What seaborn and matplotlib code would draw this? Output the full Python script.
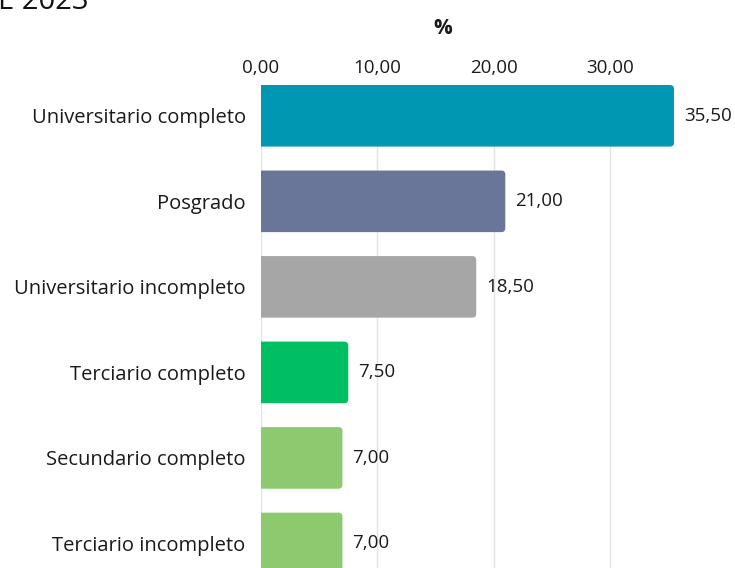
import matplotlib
matplotlib.use("Agg")
import matplotlib.pyplot as plt
import seaborn as sns
import pandas as pd
from matplotlib.patches import FancyBboxPatch

# Datos
niveles = ["Universitario completo", "Posgrado", "Universitario incompleto",
           "Terciario completo", "Secundario completo", "Terciario incompleto"]
porcentajes = [35.5, 21.0, 18.5, 7.5, 7.0, 7.0]
colores = ["#0097b2", "#6a7699", "#a6a6a6", "#00bf63", "#8cc96f", "#8cc96f"]
ticks_x = [0, 10, 20, 30]
titulo = "E 2023"

df = pd.DataFrame({"nivel": niveles, "pct": porcentajes})

sns.set_style("white")
plt.rcParams["font.family"] = ["Open Sans", "DejaVu Sans"]

fig = plt.figure(figsize=(7.35, 5.68), dpi=100)
ax = fig.add_axes([261 / 735, 0, (674 - 261) / 735, (568 - 85) / 568])

sns.barplot(data=df, y="nivel", x="pct", hue="nivel", palette=colores,
            legend=False, width=0.72, ax=ax, saturation=1, zorder=2)

# esquinas redondeadas a la derecha (el lado izquierdo queda recortado por el eje)
px_x = 413 / 35.5
px_y = 85.5
for barra in list(ax.patches):
    x0, y0 = barra.get_x(), barra.get_y()
    w, h = barra.get_width(), barra.get_height()
    r = 4 / px_x
    nueva = FancyBboxPatch((x0 - 1, y0), w + 1, h,
                           boxstyle=f"round,pad=0,rounding_size={r}",
                           mutation_aspect=px_x / px_y,
                           facecolor=barra.get_facecolor(), edgecolor="none",
                           zorder=2)
    ax.add_patch(nueva)
    barra.set_visible(False)

for cont in ax.containers:
    ax.bar_label(cont, labels=[f"{v:.2f}".replace(".", ",") for v in cont.datavalues],
                 padding=7, fontsize=13.5, color="#1a1a1a")

ax.set_xlim(0, 35.5)
ax.set_ylim(5.287, -0.36)
ax.set_xticks(ticks_x)
ax.set_xticklabels([f"{t:.2f}".replace(".", ",") for t in ticks_x])
ax.xaxis.tick_top()
ax.tick_params(axis="x", length=0, pad=6, labelsize=13.5, labelcolor="#1a1a1a")
ax.tick_params(axis="y", length=0, pad=11, labelsize=14.5, labelcolor="#1a1a1a")
ax.grid(axis="x", color="#e3e3e3", linewidth=1, zorder=0)
ax.set_axisbelow(True)
for s in ["top", "right", "bottom", "left"]:
    ax.spines[s].set_visible(False)

ax.set_ylabel("")
ax.set_xlabel("%", fontsize=15, fontweight="bold", color="#1a1a1a")
ax.xaxis.set_label_position("top")
ax.xaxis.set_label_coords(0.44, 1.105)

fig.text(-0.003, 1 - 9 / 568, titulo, fontsize=21, va="baseline", ha="left",
         color="#111111")

fig.savefig("out.png", dpi=100)
